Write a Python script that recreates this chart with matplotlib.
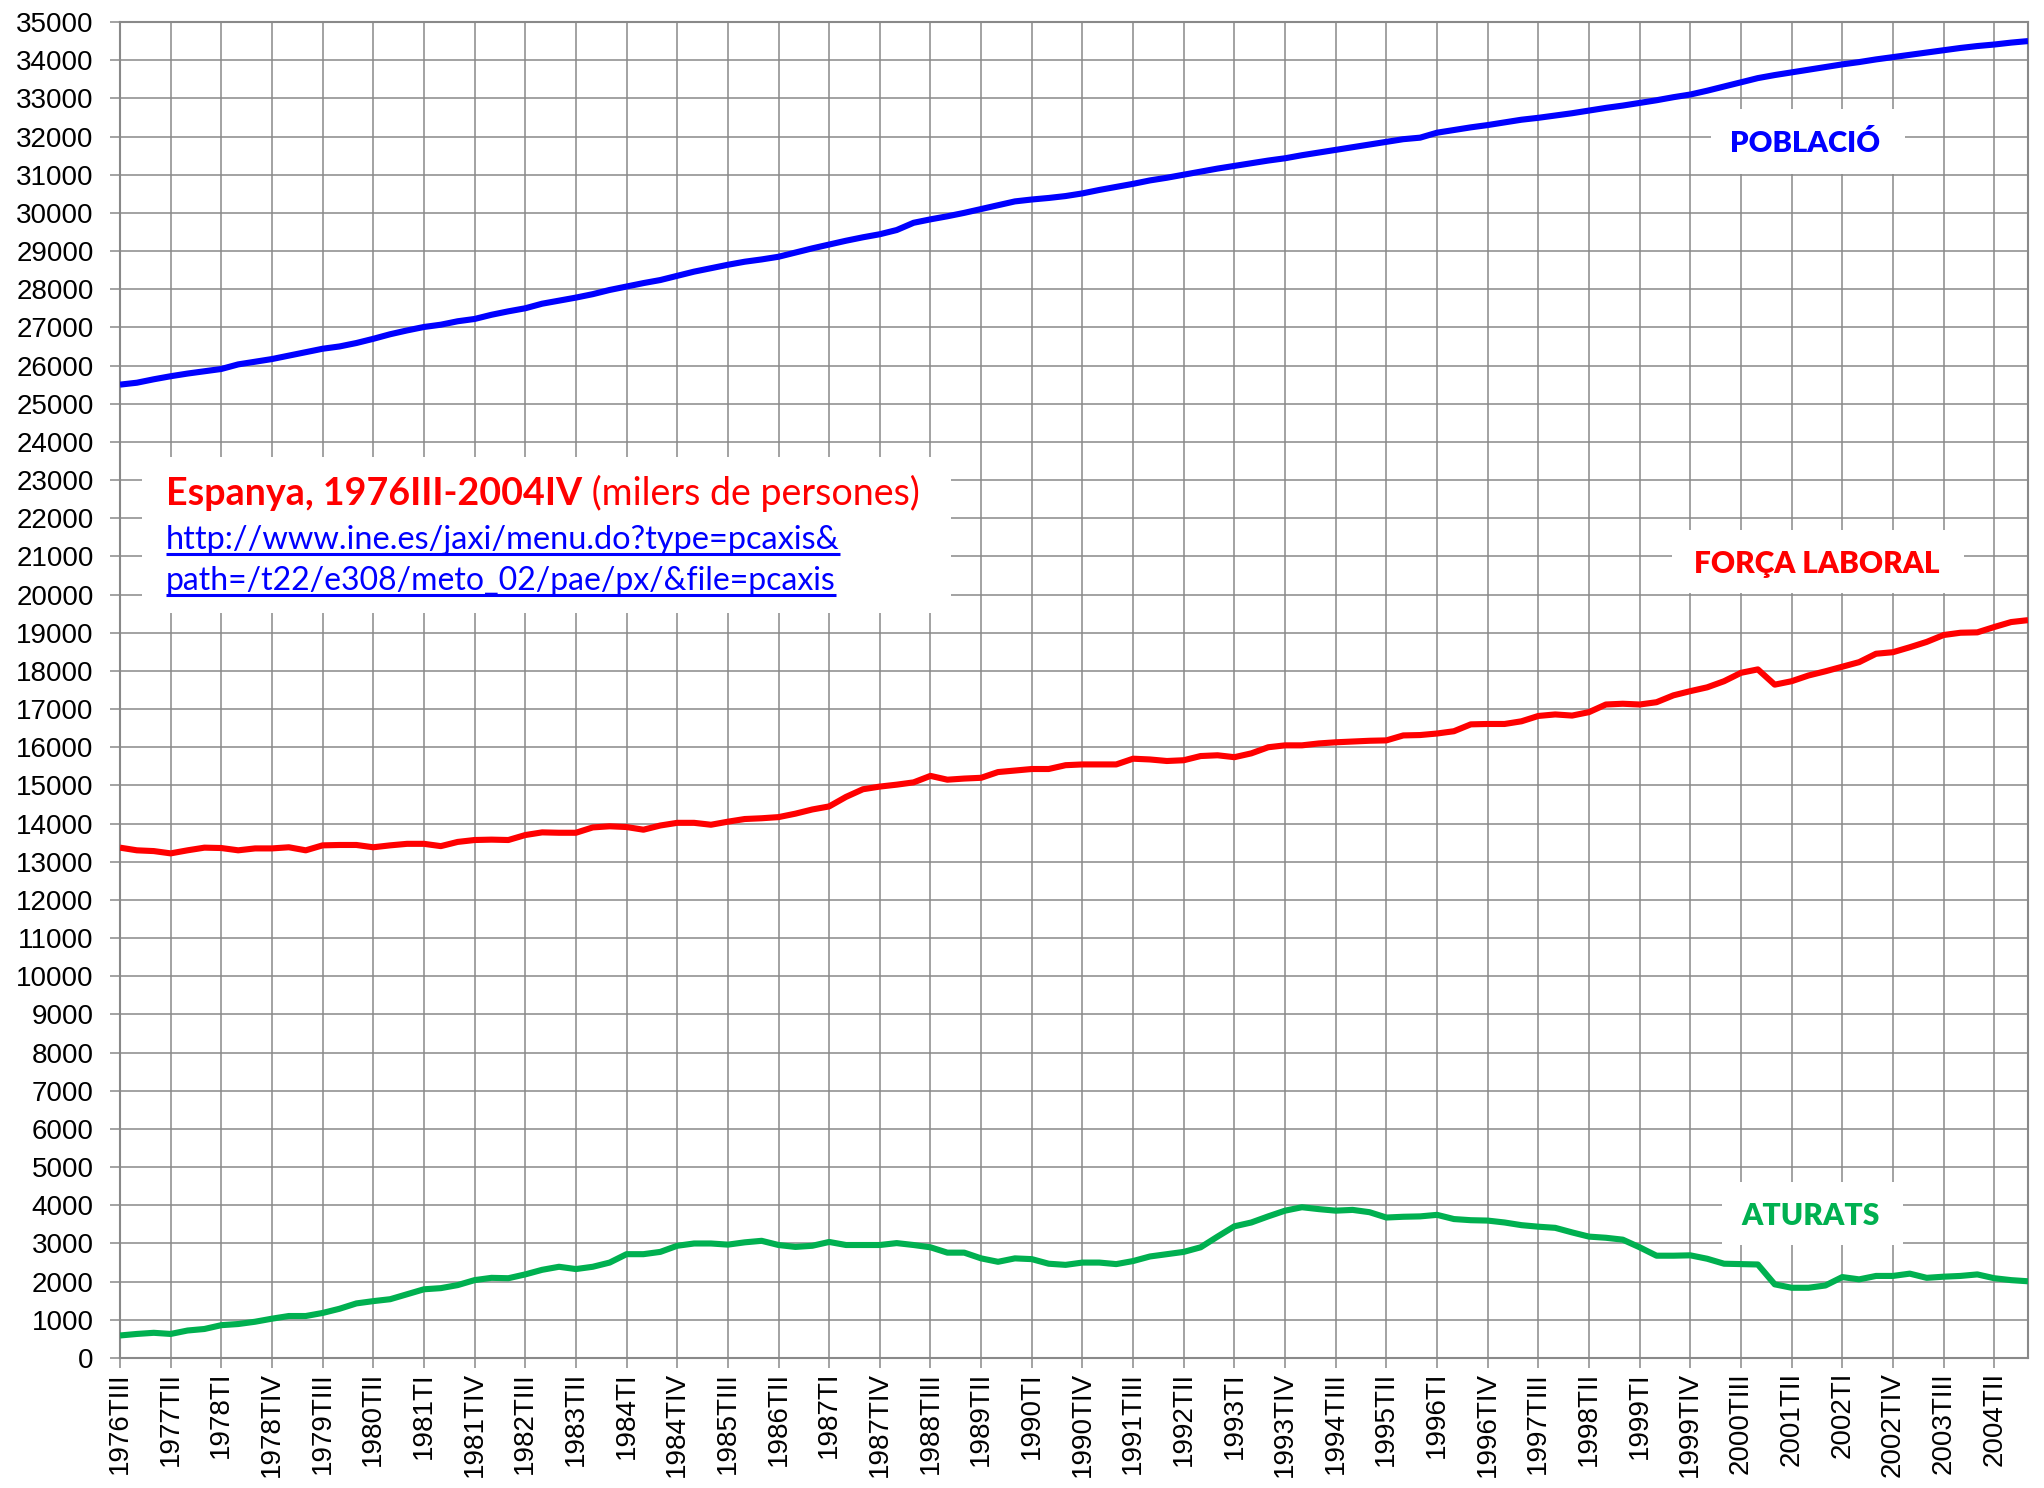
import matplotlib
matplotlib.use('Agg')
import matplotlib.pyplot as plt
from matplotlib.patches import Rectangle

# --- Dades (milers de persones), Espanya 1976TIII - 2004TIV ---
ROMANS = ['I', 'II', 'III', 'IV']
trimestres = [f'{1976 + (q + 2) // 4}T{ROMANS[(q + 2) % 4]}' for q in range(114)]

poblacio = [
    25500, 25550, 25640, 25720, 25790, 25850, 25910, 26030, 26100, 26170,
    26260, 26350, 26440, 26500, 26590, 26700, 26820, 26920, 27010, 27070,
    27160, 27220, 27330, 27420, 27500, 27620, 27700, 27780, 27870, 27980,
    28070, 28160, 28240, 28350, 28460, 28550, 28640, 28720, 28780, 28850,
    28960, 29070, 29170, 29270, 29360, 29440, 29550, 29740, 29830, 29910,
    30000, 30100, 30200, 30300, 30350, 30390, 30440, 30510, 30600, 30680,
    30760, 30850, 30920, 31000, 31080, 31160, 31230, 31300, 31370, 31430,
    31510, 31580, 31650, 31720, 31790, 31860, 31930, 31970, 32100, 32170,
    32240, 32300, 32370, 32440, 32490, 32550, 32610, 32680, 32750, 32810,
    32880, 32950, 33030, 33100, 33200, 33310, 33420, 33530, 33610, 33680,
    33750, 33820, 33890, 33950, 34020, 34080, 34140, 34200, 34260, 34320,
    34370, 34410, 34460, 34500,
]

forca_laboral = [
    13370, 13300, 13280, 13220, 13300, 13370, 13360, 13300, 13350, 13350,
    13380, 13300, 13430, 13440, 13440, 13380, 13430, 13470, 13470, 13410,
    13520, 13570, 13580, 13570, 13700, 13770, 13760, 13760, 13900, 13930,
    13910, 13840, 13950, 14020, 14020, 13970, 14050, 14120, 14140, 14170,
    14260, 14370, 14450, 14700, 14900, 14970, 15020, 15080, 15250, 15150,
    15180, 15200, 15350, 15390, 15430, 15430, 15530, 15550, 15550, 15550,
    15700, 15680, 15640, 15660, 15770, 15790, 15740, 15840, 16000, 16050,
    16050, 16100, 16130, 16150, 16170, 16180, 16310, 16320, 16360, 16420,
    16600, 16610, 16610, 16680, 16820, 16860, 16830, 16920, 17120, 17140,
    17120, 17180, 17360, 17470, 17570, 17730, 17950, 18040, 17640, 17730,
    17880, 17990, 18110, 18230, 18450, 18490, 18620, 18760, 18940, 19000,
    19010, 19150, 19280, 19330,
]

aturats = [
    590, 630, 660, 630, 720, 760, 860, 890, 950, 1030,
    1100, 1100, 1180, 1290, 1430, 1490, 1540, 1670, 1800, 1830,
    1910, 2040, 2100, 2090, 2190, 2310, 2390, 2330, 2390, 2500,
    2720, 2720, 2780, 2940, 3000, 3000, 2970, 3030, 3070, 2960,
    2910, 2940, 3040, 2960, 2960, 2960, 3010, 2960, 2900, 2760,
    2760, 2610, 2520, 2610, 2590, 2470, 2440, 2500, 2500, 2460,
    2540, 2660, 2720, 2780, 2900, 3180, 3450, 3550, 3710, 3860,
    3950, 3900, 3860, 3880, 3820, 3680, 3700, 3710, 3750, 3640,
    3610, 3600, 3550, 3480, 3440, 3410, 3290, 3180, 3150, 3100,
    2900, 2680, 2680, 2690, 2600, 2470, 2460, 2450, 1930, 1840,
    1840, 1900, 2120, 2060, 2150, 2150, 2210, 2100, 2130, 2150,
    2190, 2090, 2040, 2010,
]

GRIS = '#898989'
BLAU = '#0000FF'
VERMELL = '#FF0000'
VERD = '#00B050'

plt.rcParams['font.family'] = ['Liberation Sans', 'DejaVu Sans']

fig = plt.figure(figsize=(20.44, 14.88), dpi=100)
ax = fig.add_axes([120 / 2044, 1 - 1358 / 1488, 1908 / 2044, 1336 / 1488])

x = range(len(trimestres))
for serie, color in [(poblacio, BLAU), (forca_laboral, VERMELL), (aturats, VERD)]:
    ax.plot(x, serie, color=color, lw=4.4, solid_joinstyle='round',
            solid_capstyle='butt', zorder=3)

# Eixos i graella
ax.set_xlim(0, len(trimestres) - 1)
ax.set_ylim(0, 35000)
ax.set_yticks(range(0, 35001, 1000))
ax.set_xticks(range(0, len(trimestres), 3))
ax.set_xticklabels(trimestres[::3], rotation=90)
ax.set_axisbelow(True)
ax.grid(True, color=GRIS, lw=1.1)
for s in ax.spines.values():
    s.set_color(GRIS)
    s.set_linewidth(1.5)
ax.tick_params(axis='both', colors=GRIS, labelcolor='black', labelsize=20,
               length=7, width=1.1)
ax.tick_params(axis='y', pad=12)
ax.tick_params(axis='x', pad=3)

# Caixes blanques darrere dels textos
caixes = [
    (1.3, 19520, 49.2, 23610),      # titol
    (94.2, 31020, 105.7, 32720),    # POBLACIO
    (91.9, 20040, 109.2, 21690),    # FORCA LABORAL
    (94.9, 2950, 105.6, 4600),      # ATURATS
]
for x0, y0, x1, y1 in caixes:
    ax.add_patch(Rectangle((x0, y0), x1 - x0, y1 - y0, facecolor='white',
                           edgecolor='none', zorder=2))

LATO = ['Lato', 'DejaVu Sans']


def ajustar(textos, ample_px):
    fig.canvas.draw()
    r = fig.canvas.get_renderer()
    w = sum(t.get_window_extent(r).width for t in textos)
    for t in textos:
        t.set_fontsize(t.get_fontsize() * ample_px / w)


# Etiquetes de les series
etiquetes = [
    ('POBLACIÓ', BLAU, 99.8, 31600, 150),
    ('FORÇA LABORAL', VERMELL, 100.5, 20570, 245),
    ('ATURATS', VERD, 100.1, 3480, 138),
]
for txt, color, xc, yb, ample in etiquetes:
    t = ax.text(xc, yb, txt, color=color, family=LATO, fontweight='heavy',
                fontsize=22, ha='center', va='baseline', zorder=4)
    ajustar([t], ample)

# Titol i font de les dades
t1 = ax.text(2.72, 22350, 'Espanya, 1976III-2004IV', color=VERMELL,
             family=LATO, fontweight='bold', fontsize=24, va='baseline', zorder=4)
t1b = ax.annotate(' (milers de persones)', xy=(2.72, 22350), xycoords='data',
                  xytext=(0, 0), textcoords='offset pixels', color=VERMELL,
                  family=LATO, fontsize=24, va='baseline', zorder=4)
ajustar([t1, t1b], 754)
fig.canvas.draw()
t1b.xyann = (t1.get_window_extent(fig.canvas.get_renderer()).width, 0)

enllac = [
    ('http://www.ine.es/jaxi/menu.do?type=pcaxis&', 21190, 675),
    ('path=/t22/e308/meto_02/pae/px/&file=pcaxis', 20130, 670),
]
for txt, yb, ample in enllac:
    t = ax.text(2.72, yb, txt, color=BLAU, family=LATO, fontsize=20,
                va='baseline', zorder=4)
    ajustar([t], ample)
    fig.canvas.draw()
    bb = t.get_window_extent(fig.canvas.get_renderer())
    ybase = ax.transData.transform((0, yb))[1]
    inv = ax.transData.inverted()
    (xa, ya), (xb, _) = inv.transform([(bb.x0, ybase - 5), (bb.x1, ybase - 5)])
    ax.plot([xa, xb], [ya, ya], color=BLAU, lw=2.2, zorder=4,
            solid_capstyle='butt')

fig.savefig('out.png', dpi=100)
